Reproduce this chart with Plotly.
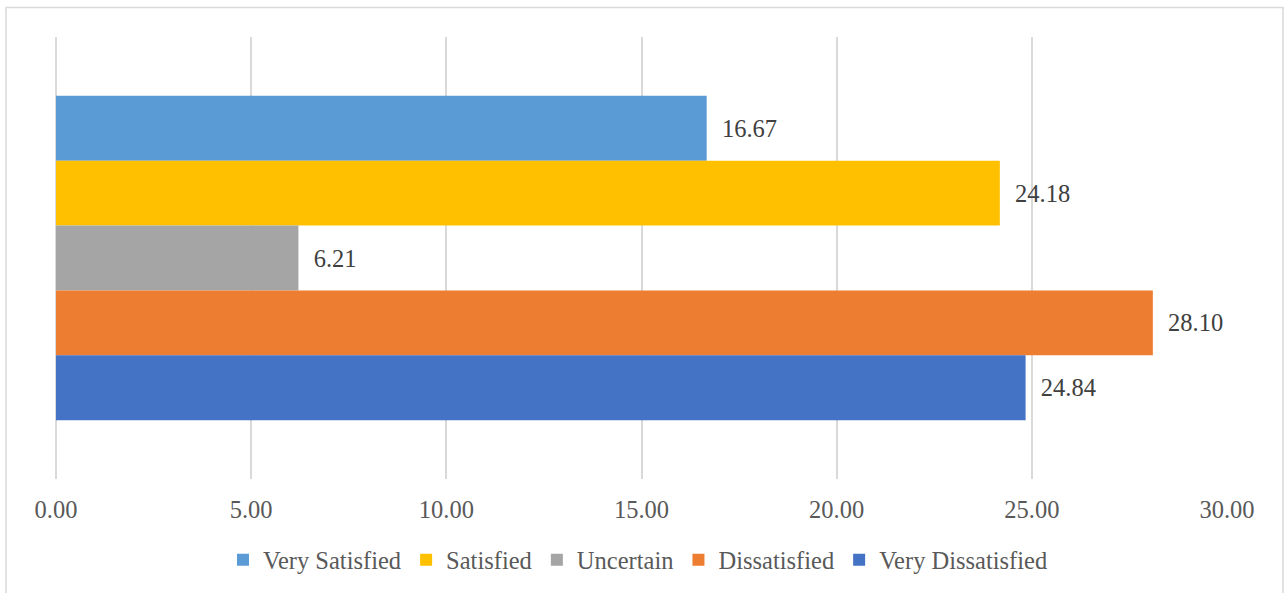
import plotly.graph_objects as go

# Survey result shares (%) by satisfaction level
categories = ["Response"]
series_names = ["Very Satisfied", "Satisfied", "Uncertain", "Dissatisfied", "Very Dissatisfied"]
series_values = [16.67, 24.18, 6.21, 28.10, 24.84]
series_colors = ["#5B9BD5", "#FFC000", "#A5A5A5", "#ED7D31", "#4472C4"]
x_tick_values = [0, 5, 10, 15, 20, 25, 30]
x_tick_labels = ["0.00", "5.00", "10.00", "15.00", "20.00", "25.00", "30.00"]

FONT = "Liberation Serif, Times New Roman, serif"
FSIZE = 24.5
NBSP = "\u00a0"
GRID = "#D9D9D9"

fig = go.Figure()
for name, val, color in zip(series_names, series_values, series_colors):
    fig.add_trace(go.Bar(
        name=name,
        y=categories,
        x=[val],
        orientation="h",
        marker=dict(color=color, line=dict(width=0)),
        text=[NBSP * 2 + f"{val:.2f}"],
        textposition="outside",
        textfont=dict(family=FONT, size=FSIZE, color="#404040"),
        cliponaxis=False,
        hoverinfo="skip",
    ))

fig.update_layout(
    width=1288,
    height=593,
    margin=dict(l=56, r=61, t=37, b=113),
    paper_bgcolor="white",
    plot_bgcolor="white",
    barmode="group",
    bargap=0.266,
    bargroupgap=0,
    font=dict(family=FONT, size=FSIZE, color="#595959"),
    showlegend=True,
    legend=dict(
        orientation="h",
        x=0.497, xanchor="center",
        y=-0.18, yanchor="middle",
        font=dict(family=FONT, size=FSIZE, color="#595959"),
        itemwidth=30,
        traceorder="normal",
    ),
    xaxis=dict(
        range=[0, 30],
        tickvals=x_tick_values,
        ticktext=x_tick_labels,
        showgrid=True,
        gridcolor=GRID,
        gridwidth=2,
        zeroline=True,
        zerolinecolor=GRID,
        zerolinewidth=2,
        showline=False,
        ticks="",
        ticklabelstandoff=13,
        tickfont=dict(family=FONT, size=FSIZE, color="#595959"),
        fixedrange=True,
        layer="below traces",
    ),
    yaxis=dict(
        autorange="reversed",
        showticklabels=False,
        showgrid=False,
        zeroline=False,
        showline=False,
        ticks="",
        fixedrange=True,
    ),
    shapes=[dict(
        type="rect",
        xref="paper", yref="paper",
        x0=-0.0427, x1=1.0478,
        y0=-0.35, y1=1.0666,
        line=dict(color=GRID, width=1.5),
        fillcolor="rgba(0,0,0,0)",
        layer="below",
    )],
)

fig.write_html("out.html", config={"displayModeBar": False})
